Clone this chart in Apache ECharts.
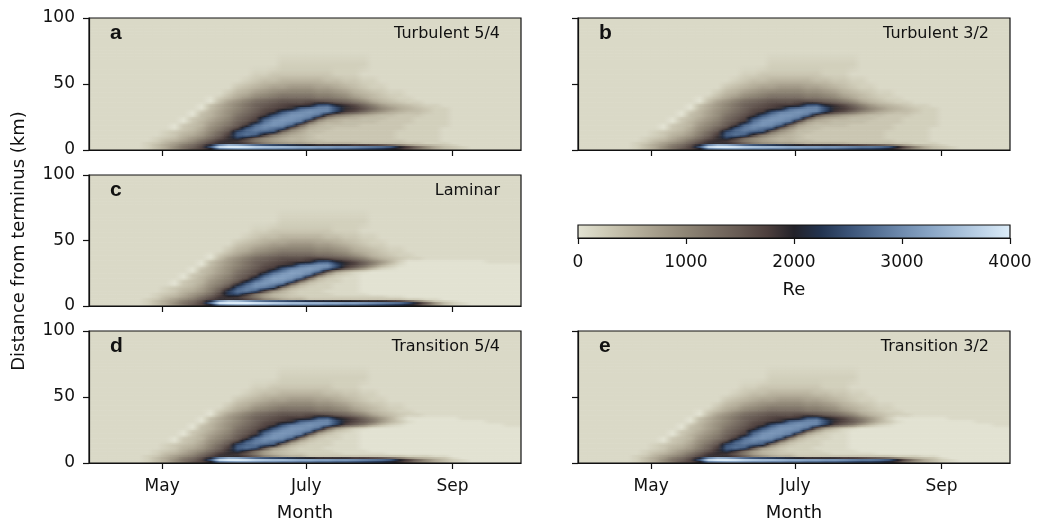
<!DOCTYPE html>
<html><head><meta charset="utf-8">
<script src="https://cdn.jsdelivr.net/npm/echarts@6/dist/echarts.min.js"></script>
<style>html,body{margin:0;padding:0;background:#fff}#c{width:1037px;height:522px}</style>
</head><body><div id="c"></div><script>
// ---------- data ----------
const monthTickDays = [121, 182, 244];
const monthTickLabels = ['May', 'July', 'Sep'];
const dayMin = 90, dayMax = 273;
const colStartDay = 90, colDays = 3.8125;           // 48 columns
const rowEdgesKm = [0,1.5,3,4.5,6,8,10,12.5,15,17.5,20,22.5,25,27.5,30,32.5,35,37.5,40,45,50,55,60,70,80,100];
const panelLetters = ['a','b','c','d','e'];
const panelTitles = ['Turbulent 5/4','Turbulent 3/2','Laminar','Transition 5/4','Transition 3/2'];
// Re / 100, rows listed from top (80-100 km) to bottom (0-1.5 km)
const reTurb54 = [
[1,1,1,1,1,1,1,1, 1,1,1,1,1,1,1,1, 1,1,1,1,1,1,1,1, 1,1,1,1,1,1,1,1, 1,1,1,1,1,1,1,1, 1,1,1,1,1,1,1,1],
[1,1,1,1,1,1,1,1, 1,1,1,1,1,1,1,1, 1,1,1,1,1,1,1,1, 1,1,1,1,1,1,1,1, 1,1,1,1,1,1,1,1, 1,1,1,1,1,1,1,1],
[1,1,1,1,1,1,1,1, 1,1,1,1,1,1,1,1, 1,1,1,1,1,2,2,2, 2,2,2,2,2,2,2,1, 1,1,1,1,1,1,1,1, 1,1,1,1,1,1,1,1],
[1,1,1,1,1,1,1,1, 1,1,1,1,1,1,1,1, 1,1,2,2,3,3,3,3, 3,3,3,2,2,2,1,1, 1,1,1,1,1,1,1,1, 1,1,1,1,1,1,1,1],
[1,1,1,1,1,1,1,1, 1,1,1,1,1,1,1,1, 1,2,3,4,4,5,5,5, 5,5,4,4,3,3,2,2, 1,1,1,1,1,1,1,1, 1,1,1,1,1,1,1,1],
[1,1,1,1,1,1,1,1, 1,1,1,1,1,1,1,1, 3,4,5,6,7,7,8,8, 8,7,7,6,5,4,3,2, 2,1,1,1,1,1,1,1, 1,1,1,1,1,1,1,1],
[1,1,1,1,1,1,1,1, 1,1,1,1,1,1,1,3, 5,6,8,9,10,11,11,11, 11,10,10,9,8,6,5,4, 3,2,2,1,1,1,1,1, 1,1,1,1,1,1,1,1],
[1,1,1,1,1,1,1,1, 1,1,1,1,1,0,3,5, 7,9,11,12,13,14,14,14, 14,13,13,12,11,9,7,5, 4,3,2,2,1,1,1,1, 1,1,1,1,1,1,1,1],
[1,1,1,1,1,1,1,1, 1,1,1,1,1,0,4,7, 9,11,13,14,15,16,16,16, 17,17,16,15,14,12,10,7, 5,4,3,2,2,1,1,1, 1,1,1,1,1,1,1,1],
[1,1,1,1,1,1,1,1, 1,1,1,1,0,4,6,8, 10,12,14,15,16,17,18,18, 19,26,27,21,19,17,14,11, 8,6,5,4,3,2,2,1, 1,1,1,1,1,1,1,1],
[1,1,1,1,1,1,1,1, 1,1,1,1,0,4,6,8, 10,12,14,16,17,18,19,27, 29,30,30,25,19,18,16,13, 10,8,6,5,4,3,2,2, 1,1,1,1,1,1,1,1],
[1,1,1,1,1,1,1,1, 1,1,1,0,3,5,7,9, 11,13,15,17,18,25,29,30, 31,30,29,23,18,16,13,10, 8,6,5,4,4,3,2,2, 1,1,1,1,1,1,1,1],
[1,1,1,1,1,1,1,1, 1,1,1,0,4,5,7,9, 12,14,16,18,25,29,31,31, 30,28,16,11,9,7,6,5, 4,4,3,3,3,2,2,2, 1,1,1,1,1,1,1,1],
[1,1,1,1,1,1,1,1, 1,1,0,3,4,6,8,10, 13,15,17,25,29,31,31,30, 28,14,8,6,5,5,4,4, 4,3,3,3,2,2,2,2, 1,1,1,1,1,1,1,1],
[1,1,1,1,1,1,1,1, 1,1,0,3,5,7,9,11, 14,16,19,28,31,31,30,28, 14,7,5,5,4,4,4,4, 3,3,3,3,2,2,2,2, 1,1,1,1,1,1,1,1],
[1,1,1,1,1,1,1,1, 1,0,3,4,5,8,10,12, 15,18,27,30,31,30,27,14, 7,5,4,4,4,4,3,3, 3,3,3,2,2,2,2,2, 1,1,1,1,1,1,1,1],
[1,1,1,1,1,1,1,1, 1,0,3,4,6,9,11,14, 17,26,29,30,28,26,13,8, 5,4,4,3,3,3,3,3, 3,3,3,2,2,2,2,1, 1,1,1,1,1,1,1,1],
[1,1,1,1,1,1,1,1, 2,3,4,5,7,10,13,16, 25,27,28,26,25,12,8,6, 4,4,3,3,3,3,3,3, 3,3,2,2,2,2,2,1, 1,1,1,1,1,1,1,1],
[1,1,1,1,1,1,1,1, 2,3,5,6,8,11,14,18, 26,28,26,18,11,8,6,5, 4,3,3,3,3,3,3,3, 3,3,2,2,2,2,2,1, 1,1,1,1,1,1,1,1],
[1,1,1,1,1,1,1,2, 3,4,6,8,10,13,16,19, 23,19,14,10,8,6,5,5, 4,3,3,3,3,3,3,3, 3,3,2,2,2,2,2,1, 1,1,1,1,1,1,1,1],
[1,1,1,1,1,1,1,2, 4,5,7,9,12,15,18,19, 18,15,11,9,7,6,5,5, 4,4,3,3,3,3,3,3, 3,3,3,2,2,2,2,1, 1,1,1,1,1,1,1,1],
[1,1,1,1,1,1,2,3, 5,7,9,11,14,17,19,19, 19,17,14,11,9,8,7,7, 6,5,5,5,5,5,4,4, 4,4,4,3,3,2,2,2, 1,1,1,1,1,1,1,1],
[1,1,1,1,1,1,2,4, 6,8,11,13,16,21,30,34, 33,30,27,25,24,23,22,21, 20,19,19,19,19,18,18,17, 16,14,11,8,6,5,4,3, 2,1,1,1,1,1,1,1],
[1,1,1,1,1,1,2,4, 6,9,12,14,17,25,38,40, 40,39,37,36,35,35,34,33, 33,32,32,31,31,30,29,28, 27,25,20,17,13,9,6,4, 3,2,1,1,1,1,1,1],
[1,1,1,1,1,1,2,4, 6,9,12,15,17,20,30,32, 33,33,32,31,31,30,30,29, 29,28,28,27,27,26,25,24, 23,21,19,16,12,9,6,4, 3,2,1,1,1,1,1,1]
];
const reTurb32 = [
[1,1,1,1,1,1,1,1, 1,1,1,1,1,1,1,1, 1,1,1,1,1,1,1,1, 1,1,1,1,1,1,1,1, 1,1,1,1,1,1,1,1, 1,1,1,1,1,1,1,1],
[1,1,1,1,1,1,1,1, 1,1,1,1,1,1,1,1, 1,1,1,1,1,1,1,1, 1,1,1,1,1,1,1,1, 1,1,1,1,1,1,1,1, 1,1,1,1,1,1,1,1],
[1,1,1,1,1,1,1,1, 1,1,1,1,1,1,1,1, 1,1,1,1,1,2,2,2, 2,2,2,2,2,2,2,1, 1,1,1,1,1,1,1,1, 1,1,1,1,1,1,1,1],
[1,1,1,1,1,1,1,1, 1,1,1,1,1,1,1,1, 1,1,2,2,3,3,3,3, 3,3,3,2,2,2,1,1, 1,1,1,1,1,1,1,1, 1,1,1,1,1,1,1,1],
[1,1,1,1,1,1,1,1, 1,1,1,1,1,1,1,1, 1,2,3,4,4,5,5,5, 5,5,4,4,3,3,2,2, 1,1,1,1,1,1,1,1, 1,1,1,1,1,1,1,1],
[1,1,1,1,1,1,1,1, 1,1,1,1,1,1,1,1, 3,4,5,6,7,7,8,8, 8,7,7,6,5,4,3,2, 2,1,1,1,1,1,1,1, 1,1,1,1,1,1,1,1],
[1,1,1,1,1,1,1,1, 1,1,1,1,1,1,1,3, 5,6,8,9,10,11,11,11, 11,10,10,9,8,6,5,4, 3,2,2,1,1,1,1,1, 1,1,1,1,1,1,1,1],
[1,1,1,1,1,1,1,1, 1,1,1,1,1,0,3,5, 7,9,11,12,13,14,14,14, 14,13,13,12,11,9,7,5, 4,3,2,2,1,1,1,1, 1,1,1,1,1,1,1,1],
[1,1,1,1,1,1,1,1, 1,1,1,1,1,0,4,7, 9,11,13,14,15,16,16,16, 17,17,16,15,14,12,10,7, 5,4,3,2,2,1,1,1, 1,1,1,1,1,1,1,1],
[1,1,1,1,1,1,1,1, 1,1,1,1,0,4,6,8, 10,12,14,15,16,17,18,18, 19,26,27,21,19,17,14,11, 8,6,5,4,3,2,2,1, 1,1,1,1,1,1,1,1],
[1,1,1,1,1,1,1,1, 1,1,1,1,0,4,6,8, 10,12,14,16,17,18,19,27, 29,30,30,25,19,18,16,13, 10,8,6,5,4,3,2,2, 1,1,1,1,1,1,1,1],
[1,1,1,1,1,1,1,1, 1,1,1,0,3,5,7,9, 11,13,15,17,18,25,29,30, 31,30,29,23,18,16,13,10, 8,6,5,4,4,3,2,2, 1,1,1,1,1,1,1,1],
[1,1,1,1,1,1,1,1, 1,1,1,0,4,5,7,9, 12,14,16,18,25,29,31,31, 30,28,16,11,9,7,6,5, 4,4,3,3,3,2,2,2, 1,1,1,1,1,1,1,1],
[1,1,1,1,1,1,1,1, 1,1,0,3,4,6,8,10, 13,15,17,25,29,31,31,30, 28,14,8,6,5,5,4,4, 4,3,3,3,2,2,2,2, 1,1,1,1,1,1,1,1],
[1,1,1,1,1,1,1,1, 1,1,0,3,5,7,9,11, 14,16,19,28,31,31,30,28, 14,7,5,5,4,4,4,4, 3,3,3,3,2,2,2,2, 1,1,1,1,1,1,1,1],
[1,1,1,1,1,1,1,1, 1,0,3,4,5,8,10,12, 15,18,27,30,31,30,27,14, 7,5,4,4,4,4,3,3, 3,3,3,2,2,2,2,2, 1,1,1,1,1,1,1,1],
[1,1,1,1,1,1,1,1, 1,0,3,4,6,9,11,14, 17,26,29,30,28,26,13,8, 5,4,4,3,3,3,3,3, 3,3,3,2,2,2,2,1, 1,1,1,1,1,1,1,1],
[1,1,1,1,1,1,1,1, 2,3,4,5,7,10,13,16, 25,27,28,26,25,12,8,6, 4,4,3,3,3,3,3,3, 3,3,2,2,2,2,2,1, 1,1,1,1,1,1,1,1],
[1,1,1,1,1,1,1,1, 2,3,5,6,8,11,14,18, 26,28,26,18,11,8,6,5, 4,3,3,3,3,3,3,3, 3,3,2,2,2,2,2,1, 1,1,1,1,1,1,1,1],
[1,1,1,1,1,1,1,2, 3,4,6,8,10,13,16,19, 23,19,14,10,8,6,5,5, 4,3,3,3,3,3,3,3, 3,3,2,2,2,2,2,1, 1,1,1,1,1,1,1,1],
[1,1,1,1,1,1,1,2, 4,5,7,9,12,15,18,19, 18,15,11,9,7,6,5,5, 4,4,3,3,3,3,3,3, 3,3,3,2,2,2,2,1, 1,1,1,1,1,1,1,1],
[1,1,1,1,1,1,2,3, 5,7,9,11,14,17,19,19, 19,17,14,11,9,8,7,7, 6,5,5,5,5,5,4,4, 4,4,4,3,3,2,2,2, 1,1,1,1,1,1,1,1],
[1,1,1,1,1,1,2,4, 6,8,11,13,16,21,30,34, 33,30,27,25,24,23,22,21, 20,19,19,19,19,18,18,17, 16,15,13,10,7,5,4,3, 2,1,1,1,1,1,1,1],
[1,1,1,1,1,1,2,4, 6,9,12,14,17,25,38,40, 40,39,37,36,35,35,34,33, 33,32,32,31,31,30,29,28, 28,27,25,20,15,10,6,4, 3,2,1,1,1,1,1,1],
[1,1,1,1,1,1,2,4, 6,9,12,15,17,20,30,32, 33,33,32,31,31,30,30,29, 29,28,28,27,27,26,25,24, 24,23,21,18,13,9,6,4, 3,2,1,1,1,1,1,1]
];
const reLaminar = [
[1,1,1,1,1,1,1,1, 1,1,1,1,1,1,1,1, 1,1,1,1,1,1,1,1, 1,1,1,1,1,1,1,1, 1,1,1,1,1,1,1,1, 1,1,1,1,1,1,1,1],
[1,1,1,1,1,1,1,1, 1,1,1,1,1,1,1,1, 1,1,1,1,1,1,1,1, 1,1,1,1,1,1,1,1, 1,1,1,1,1,1,1,1, 1,1,1,1,1,1,1,1],
[1,1,1,1,1,1,1,1, 1,1,1,1,1,1,1,1, 1,1,1,1,1,2,2,2, 2,2,2,2,2,2,2,1, 1,1,1,1,1,1,1,1, 1,1,1,1,1,1,1,1],
[1,1,1,1,1,1,1,1, 1,1,1,1,1,1,1,1, 1,1,2,2,3,3,3,3, 3,3,3,2,2,2,1,1, 1,1,1,1,1,1,1,1, 1,1,1,1,1,1,1,1],
[1,1,1,1,1,1,1,1, 1,1,1,1,1,1,1,1, 1,2,3,4,4,5,5,5, 5,5,4,4,3,3,2,2, 1,1,1,1,1,1,1,1, 1,1,1,1,1,1,1,1],
[1,1,1,1,1,1,1,1, 1,1,1,1,1,1,1,1, 3,4,5,6,7,7,8,8, 8,7,7,6,5,4,3,2, 2,1,1,1,1,1,1,1, 1,1,1,1,1,1,1,1],
[1,1,1,1,1,1,1,1, 1,1,1,1,1,1,1,3, 5,6,8,9,10,11,11,11, 11,10,10,9,8,6,5,4, 3,2,2,1,1,1,1,1, 1,1,1,1,1,1,1,1],
[1,1,1,1,1,1,1,1, 1,1,1,1,1,0,3,5, 7,9,11,12,13,14,14,14, 14,13,13,12,11,9,7,5, 4,3,2,2,1,1,1,1, 1,1,1,1,1,1,1,1],
[1,1,1,1,1,1,1,1, 1,1,1,1,1,0,4,7, 9,11,13,14,15,16,16,16, 17,17,16,15,14,12,10,7, 5,4,3,2,2,1,1,1, 1,1,1,1,1,1,1,1],
[1,1,1,1,1,1,1,1, 1,1,1,1,0,4,6,8, 10,12,14,15,16,17,18,18, 19,25,26,21,19,17,14,11, 8,5,2,0,0,0,0,0, 0,0,0,0,1,1,1,1],
[1,1,1,1,1,1,1,1, 1,1,1,1,0,4,6,8, 10,12,14,16,17,18,19,27, 29,31,31,25,19,17,14,10, 6,3,1,0,0,0,0,0, 0,0,0,0,0,0,0,0],
[1,1,1,1,1,1,1,1, 1,1,1,0,3,5,7,9, 11,13,15,17,18,25,29,31, 32,31,29,23,17,13,9,5, 2,1,0,0,0,0,0,0, 0,0,0,0,0,0,0,0],
[1,1,1,1,1,1,1,1, 1,1,1,0,4,5,7,9, 12,14,16,18,25,29,32,32, 31,28,15,7,4,2,1,0, 0,0,0,0,0,0,0,0, 0,0,0,0,0,0,0,0],
[1,1,1,1,1,1,1,1, 1,1,0,3,4,6,8,10, 13,15,17,25,30,32,32,31, 28,14,6,3,2,1,0,0, 0,0,0,0,0,0,0,0, 0,0,0,0,0,0,0,0],
[1,1,1,1,1,1,1,1, 1,1,0,3,5,7,9,11, 14,16,22,29,32,32,31,28, 14,5,3,2,1,1,0,0, 0,0,0,0,0,0,0,0, 0,0,0,0,0,0,0,0],
[1,1,1,1,1,1,1,1, 1,0,3,4,5,8,10,12, 15,21,28,31,32,31,27,12, 5,3,2,2,1,1,0,0, 0,0,0,0,0,0,0,0, 0,0,0,0,0,0,0,0],
[1,1,1,1,1,1,1,1, 1,0,3,4,6,9,11,14, 20,27,31,31,29,26,11,5, 3,2,2,1,1,1,0,0, 0,0,0,0,0,0,0,0, 0,0,0,0,0,0,0,0],
[1,1,1,1,1,1,1,1, 2,3,4,5,7,10,13,17, 26,29,30,28,25,10,5,3, 2,2,2,1,1,1,0,0, 0,0,0,0,0,0,0,0, 0,0,0,0,0,0,0,0],
[1,1,1,1,1,1,1,1, 2,3,5,6,8,11,15,23, 28,29,26,16,8,5,3,2, 2,2,1,1,1,1,0,0, 0,0,0,0,0,0,0,0, 0,0,0,0,0,0,0,0],
[1,1,1,1,1,1,1,2, 3,4,6,8,10,13,17,23, 25,19,12,8,5,4,3,2, 2,2,2,1,1,1,1,0, 0,0,0,0,0,0,0,0, 0,0,0,0,0,0,0,0],
[1,1,1,1,1,1,1,2, 4,5,7,9,12,15,18,19, 18,15,11,7,5,4,3,3, 2,2,2,2,2,2,2,2, 2,1,1,0,0,0,0,0, 0,0,0,0,0,0,0,0],
[1,1,1,1,1,1,2,3, 5,7,9,11,14,17,19,19, 19,17,14,10,8,6,5,5, 3,3,3,3,3,3,3,3, 3,3,3,2,2,1,1,0, 0,0,0,0,0,0,0,0],
[1,1,1,1,1,1,2,4, 6,8,11,13,16,22,32,36, 35,32,29,27,26,25,24,23, 22,21,21,20,20,20,19,19, 19,18,17,14,10,6,3,2, 1,0,0,0,0,0,0,0],
[1,1,1,1,1,1,2,4, 6,9,12,14,17,27,39,40, 40,40,39,38,37,36,35,35, 34,34,33,33,32,32,31,30, 29,28,27,24,19,14,8,4, 2,1,0,0,0,0,0,0],
[1,1,1,1,1,1,2,4, 6,9,12,15,17,21,31,33, 34,34,33,33,32,32,31,31, 30,30,29,29,28,28,27,26, 25,24,23,21,18,13,8,4, 2,1,0,0,0,0,0,0]
];
const reTrans54 = [
[1,1,1,1,1,1,1,1, 1,1,1,1,1,1,1,1, 1,1,1,1,1,1,1,1, 1,1,1,1,1,1,1,1, 1,1,1,1,1,1,1,1, 1,1,1,1,1,1,1,1],
[1,1,1,1,1,1,1,1, 1,1,1,1,1,1,1,1, 1,1,1,1,1,1,1,1, 1,1,1,1,1,1,1,1, 1,1,1,1,1,1,1,1, 1,1,1,1,1,1,1,1],
[1,1,1,1,1,1,1,1, 1,1,1,1,1,1,1,1, 1,1,1,1,1,2,2,2, 2,2,2,2,2,2,2,1, 1,1,1,1,1,1,1,1, 1,1,1,1,1,1,1,1],
[1,1,1,1,1,1,1,1, 1,1,1,1,1,1,1,1, 1,1,2,2,3,3,3,3, 3,3,3,2,2,2,1,1, 1,1,1,1,1,1,1,1, 1,1,1,1,1,1,1,1],
[1,1,1,1,1,1,1,1, 1,1,1,1,1,1,1,1, 1,2,3,4,4,5,5,5, 5,5,4,4,3,3,2,2, 1,1,1,1,1,1,1,1, 1,1,1,1,1,1,1,1],
[1,1,1,1,1,1,1,1, 1,1,1,1,1,1,1,1, 3,4,5,6,7,7,8,8, 8,7,7,6,5,4,3,2, 2,1,1,1,1,1,1,1, 1,1,1,1,1,1,1,1],
[1,1,1,1,1,1,1,1, 1,1,1,1,1,1,1,3, 5,6,8,9,10,11,11,11, 11,10,10,9,8,6,5,4, 3,2,2,1,1,1,1,1, 1,1,1,1,1,1,1,1],
[1,1,1,1,1,1,1,1, 1,1,1,1,1,0,3,5, 7,9,11,12,13,14,14,14, 14,13,13,12,11,9,7,5, 4,3,2,2,1,1,1,1, 1,1,1,1,1,1,1,1],
[1,1,1,1,1,1,1,1, 1,1,1,1,1,0,4,7, 9,11,13,14,15,16,16,16, 17,17,16,15,14,12,10,7, 5,4,3,2,2,1,1,1, 1,1,1,1,1,1,1,1],
[1,1,1,1,1,1,1,1, 1,1,1,1,0,4,6,8, 10,12,14,15,16,17,18,18, 19,26,27,21,19,17,14,11, 8,5,2,0,0,0,0,0, 0,1,1,1,1,1,1,1],
[1,1,1,1,1,1,1,1, 1,1,1,1,0,4,6,8, 10,12,14,16,17,18,19,27, 29,30,30,25,19,17,15,12, 8,5,3,1,0,0,0,0, 0,0,0,0,1,1,1,1],
[1,1,1,1,1,1,1,1, 1,1,1,0,3,5,7,9, 11,13,15,17,18,25,29,30, 31,30,29,23,17,14,11,7, 4,2,1,0,0,0,0,0, 0,0,0,0,0,0,1,1],
[1,1,1,1,1,1,1,1, 1,1,1,0,4,5,7,9, 12,14,16,18,25,29,31,31, 30,28,14,7,4,2,1,0, 0,0,0,0,0,0,0,0, 0,0,0,0,0,0,0,0],
[1,1,1,1,1,1,1,1, 1,1,0,3,4,6,8,10, 13,15,17,25,29,31,31,30, 28,12,6,3,2,1,0,0, 0,0,0,0,0,0,0,0, 0,0,0,0,0,0,0,0],
[1,1,1,1,1,1,1,1, 1,1,0,3,5,7,9,11, 14,16,19,28,31,31,30,28, 12,5,3,2,1,1,0,0, 0,0,0,0,0,0,0,0, 0,0,0,0,0,0,0,0],
[1,1,1,1,1,1,1,1, 1,0,3,4,5,8,10,12, 15,18,27,30,31,30,27,12, 5,3,2,2,1,1,0,0, 0,0,0,0,0,0,0,0, 0,0,0,0,0,0,0,0],
[1,1,1,1,1,1,1,1, 1,0,3,4,6,9,11,14, 17,26,29,30,28,26,11,5, 3,2,2,1,1,1,0,0, 0,0,0,0,0,0,0,0, 0,0,0,0,0,0,0,0],
[1,1,1,1,1,1,1,1, 2,3,4,5,7,10,13,16, 25,27,28,26,25,10,5,3, 2,2,2,1,1,1,0,0, 0,0,0,0,0,0,0,0, 0,0,0,0,0,0,0,0],
[1,1,1,1,1,1,1,1, 2,3,5,6,8,11,14,18, 26,28,26,16,8,5,3,2, 2,2,1,1,1,1,0,0, 0,0,0,0,0,0,0,0, 0,0,0,0,0,0,0,0],
[1,1,1,1,1,1,1,2, 3,4,6,8,10,13,16,19, 23,19,13,8,5,4,3,2, 2,2,2,1,1,1,1,0, 0,0,0,0,0,0,0,0, 0,0,0,0,0,0,0,0],
[1,1,1,1,1,1,1,2, 4,5,7,9,12,15,18,19, 18,15,11,7,5,4,3,3, 2,2,2,2,1,1,1,1, 1,0,0,0,0,0,0,0, 0,0,0,0,0,0,0,0],
[1,1,1,1,1,1,2,3, 5,7,9,11,14,17,19,19, 19,17,14,10,8,6,5,5, 3,3,3,3,3,3,3,3, 3,3,3,2,2,2,1,1, 0,0,0,0,0,0,0,0],
[1,1,1,1,1,1,2,4, 6,8,11,13,16,21,30,34, 33,30,27,25,24,23,22,21, 20,19,19,19,19,18,18,17, 16,14,11,8,6,5,4,3, 1,0,0,0,0,0,0,0],
[1,1,1,1,1,1,2,4, 6,9,12,14,17,25,38,40, 40,39,37,36,35,35,34,33, 33,32,32,31,31,30,29,28, 27,25,20,17,13,9,6,4, 2,1,0,0,0,0,0,0],
[1,1,1,1,1,1,2,4, 6,9,12,15,17,20,30,32, 33,33,32,31,31,30,30,29, 29,28,28,27,27,26,25,24, 23,21,19,16,12,9,6,4, 2,1,0,0,0,0,0,0]
];
const reTrans32 = [
[1,1,1,1,1,1,1,1, 1,1,1,1,1,1,1,1, 1,1,1,1,1,1,1,1, 1,1,1,1,1,1,1,1, 1,1,1,1,1,1,1,1, 1,1,1,1,1,1,1,1],
[1,1,1,1,1,1,1,1, 1,1,1,1,1,1,1,1, 1,1,1,1,1,1,1,1, 1,1,1,1,1,1,1,1, 1,1,1,1,1,1,1,1, 1,1,1,1,1,1,1,1],
[1,1,1,1,1,1,1,1, 1,1,1,1,1,1,1,1, 1,1,1,1,1,2,2,2, 2,2,2,2,2,2,2,1, 1,1,1,1,1,1,1,1, 1,1,1,1,1,1,1,1],
[1,1,1,1,1,1,1,1, 1,1,1,1,1,1,1,1, 1,1,2,2,3,3,3,3, 3,3,3,2,2,2,1,1, 1,1,1,1,1,1,1,1, 1,1,1,1,1,1,1,1],
[1,1,1,1,1,1,1,1, 1,1,1,1,1,1,1,1, 1,2,3,4,4,5,5,5, 5,5,4,4,3,3,2,2, 1,1,1,1,1,1,1,1, 1,1,1,1,1,1,1,1],
[1,1,1,1,1,1,1,1, 1,1,1,1,1,1,1,1, 3,4,5,6,7,7,8,8, 8,7,7,6,5,4,3,2, 2,1,1,1,1,1,1,1, 1,1,1,1,1,1,1,1],
[1,1,1,1,1,1,1,1, 1,1,1,1,1,1,1,3, 5,6,8,9,10,11,11,11, 11,10,10,9,8,6,5,4, 3,2,2,1,1,1,1,1, 1,1,1,1,1,1,1,1],
[1,1,1,1,1,1,1,1, 1,1,1,1,1,0,3,5, 7,9,11,12,13,14,14,14, 14,13,13,12,11,9,7,5, 4,3,2,2,1,1,1,1, 1,1,1,1,1,1,1,1],
[1,1,1,1,1,1,1,1, 1,1,1,1,1,0,4,7, 9,11,13,14,15,16,16,16, 17,17,16,15,14,12,10,7, 5,4,3,2,2,1,1,1, 1,1,1,1,1,1,1,1],
[1,1,1,1,1,1,1,1, 1,1,1,1,0,4,6,8, 10,12,14,15,16,17,18,18, 19,26,27,21,19,17,14,11, 8,5,2,0,0,0,0,0, 0,1,1,1,1,1,1,1],
[1,1,1,1,1,1,1,1, 1,1,1,1,0,4,6,8, 10,12,14,16,17,18,19,27, 29,30,30,25,19,17,15,12, 8,5,3,1,0,0,0,0, 0,0,0,0,1,1,1,1],
[1,1,1,1,1,1,1,1, 1,1,1,0,3,5,7,9, 11,13,15,17,18,25,29,30, 31,30,29,23,17,14,11,7, 4,2,1,0,0,0,0,0, 0,0,0,0,0,0,1,1],
[1,1,1,1,1,1,1,1, 1,1,1,0,4,5,7,9, 12,14,16,18,25,29,31,31, 30,28,14,7,4,2,1,0, 0,0,0,0,0,0,0,0, 0,0,0,0,0,0,0,0],
[1,1,1,1,1,1,1,1, 1,1,0,3,4,6,8,10, 13,15,17,25,29,31,31,30, 28,12,6,3,2,1,0,0, 0,0,0,0,0,0,0,0, 0,0,0,0,0,0,0,0],
[1,1,1,1,1,1,1,1, 1,1,0,3,5,7,9,11, 14,16,19,28,31,31,30,28, 12,5,3,2,1,1,0,0, 0,0,0,0,0,0,0,0, 0,0,0,0,0,0,0,0],
[1,1,1,1,1,1,1,1, 1,0,3,4,5,8,10,12, 15,18,27,30,31,30,27,12, 5,3,2,2,1,1,0,0, 0,0,0,0,0,0,0,0, 0,0,0,0,0,0,0,0],
[1,1,1,1,1,1,1,1, 1,0,3,4,6,9,11,14, 17,26,29,30,28,26,11,5, 3,2,2,1,1,1,0,0, 0,0,0,0,0,0,0,0, 0,0,0,0,0,0,0,0],
[1,1,1,1,1,1,1,1, 2,3,4,5,7,10,13,16, 25,27,28,26,25,10,5,3, 2,2,2,1,1,1,0,0, 0,0,0,0,0,0,0,0, 0,0,0,0,0,0,0,0],
[1,1,1,1,1,1,1,1, 2,3,5,6,8,11,14,18, 26,28,26,16,8,5,3,2, 2,2,1,1,1,1,0,0, 0,0,0,0,0,0,0,0, 0,0,0,0,0,0,0,0],
[1,1,1,1,1,1,1,2, 3,4,6,8,10,13,16,19, 23,19,13,8,5,4,3,2, 2,2,2,1,1,1,1,0, 0,0,0,0,0,0,0,0, 0,0,0,0,0,0,0,0],
[1,1,1,1,1,1,1,2, 4,5,7,9,12,15,18,19, 18,15,11,7,5,4,3,3, 2,2,2,2,1,1,1,1, 1,0,0,0,0,0,0,0, 0,0,0,0,0,0,0,0],
[1,1,1,1,1,1,2,3, 5,7,9,11,14,17,19,19, 19,17,14,10,8,6,5,5, 3,3,3,3,3,3,3,3, 3,3,3,2,2,2,1,1, 0,0,0,0,0,0,0,0],
[1,1,1,1,1,1,2,4, 6,8,11,13,16,21,30,34, 33,30,27,25,24,23,22,21, 20,19,19,19,19,18,18,17, 16,15,13,10,7,5,4,3, 1,0,0,0,0,0,0,0],
[1,1,1,1,1,1,2,4, 6,9,12,14,17,25,38,40, 40,39,37,36,35,35,34,33, 33,32,32,31,31,30,29,28, 28,27,25,20,15,10,6,4, 2,1,0,0,0,0,0,0],
[1,1,1,1,1,1,2,4, 6,9,12,15,17,20,30,32, 33,33,32,31,31,30,30,29, 29,28,28,27,27,26,25,24, 24,23,21,18,13,9,6,4, 2,1,0,0,0,0,0,0]
];
const panelGrids = [reTurb54, reTurb32, reLaminar, reTrans54, reTrans32];
const reColorbarRange = [0, 4000];
const reScaleMax = 40;   // grid values are Re/100
// colour map (Re 0..4000 in steps of 250)
const reColors = ['#e2e2d2','#cecbb7','#b9b39f','#a39b89','#8e8575','#7a6f64','#665a53','#4d3f3d','#232229',
                  '#233450','#3a5276','#546f93','#6f8bae','#88a4c4','#a3bcd6','#bfd4e8','#dcecf8'];

// ---------- layout ----------
const layout = [
  {left: 89, top: 18, width: 432, height: 132},
  {left: 578, top: 18, width: 432, height: 132},
  {left: 89, top: 175, width: 432, height: 131},
  {left: 89, top: 331, width: 432, height: 132},
  {left: 578, top: 331, width: 432, height: 132}
];
const cbLayout = {left: 578, top: 225, width: 432, height: 13};
const showXLabels = [false, false, false, true, true];
const showYLabels = [true, false, true, true, false];
const INK = '#111';
const FONT = 'DejaVu Sans';

const rgbStops = reColors.map(h => [parseInt(h.slice(1,3),16), parseInt(h.slice(3,5),16), parseInt(h.slice(5,7),16)]);
function colorOf(v) {
  const t = Math.max(0, Math.min(1, v / reScaleMax)) * (rgbStops.length - 1);
  const i = Math.min(rgbStops.length - 2, Math.floor(t)), f = t - i;
  const a = rgbStops[i], b = rgbStops[i + 1];
  return 'rgb(' + [0,1,2].map(k => Math.round(a[k] + (b[k] - a[k]) * f)).join(',') + ')';
}

// each cell: [x0, x1, y0, y1, value, L, R, U, D, UL, UR, DL, DR] (neighbour values shade the cell smoothly)
function cellsOf(grid) {
  const out = [];
  const nRows = rowEdgesKm.length - 1;
  const g = (r, c, fb) => (r >= 0 && r < grid.length && c >= 0 && c < grid[r].length) ? grid[r][c] : fb;
  grid.forEach((row, ri) => {
    const k = nRows - 1 - ri;
    row.forEach((v, c) => {
      out.push([colStartDay + c * colDays, colStartDay + (c + 1) * colDays, rowEdgesKm[k], rowEdgesKm[k + 1], v,
        g(ri, c - 1, v), g(ri, c + 1, v), g(ri - 1, c, v), g(ri + 1, c, v),
        g(ri - 1, c - 1, g(ri - 1, c, g(ri, c - 1, v))), g(ri - 1, c + 1, g(ri - 1, c, g(ri, c + 1, v))),
        g(ri + 1, c - 1, g(ri + 1, c, g(ri, c - 1, v))), g(ri + 1, c + 1, g(ri + 1, c, g(ri, c + 1, v)))]);
    });
  });
  return out;
}

function renderCell(params, api) {
  const p0 = api.coord([api.value(0), api.value(3)]);
  const p1 = api.coord([api.value(1), api.value(2)]);
  const v = api.value(4), L = api.value(5), R = api.value(6), U = api.value(7), D = api.value(8);
  const UL = api.value(9), UR = api.value(10), DL = api.value(11), DR = api.value(12);
  const top = [(v + L + U + UL) / 4, (v + U) / 2, (v + R + U + UR) / 4];
  const mid = [(v + L) / 2, v, (v + R) / 2];
  const bot = [(v + L + D + DL) / 4, (v + D) / 2, (v + R + D + DR) / 4];
  const w = p1[0] - p0[0], h = p1[1] - p0[1];
  const n = Math.max(1, Math.round(h / 1.5));
  const children = [];
  for (let k = 0; k < n; k++) {
    const s = (k + 0.5) / n;
    const vals = s < 0.5 ? [0,1,2].map(j => top[j] + (mid[j] - top[j]) * (s / 0.5))
                         : [0,1,2].map(j => mid[j] + (bot[j] - mid[j]) * ((s - 0.5) / 0.5));
    children.push({type: 'rect', shape: {x: p0[0], y: p0[1] + h * k / n, width: w + 0.5, height: h / n + 0.6},
      style: {fill: new echarts.graphic.LinearGradient(0, 0, 1, 0, [
        {offset: 0, color: colorOf(vals[0])}, {offset: 0.5, color: colorOf(vals[1])}, {offset: 1, color: colorOf(vals[2])}])}});
  }
  return {type: 'group', children: children};
}

const grids = [], xAxes = [], yAxes = [], series = [], graphics = [];
layout.forEach((L, i) => {
  grids.push({left: L.left, top: L.top, width: L.width, height: L.height, show: true, outerBoundsMode: 'none',
    containLabel: false, backgroundColor: 'rgba(0,0,0,0)', borderColor: INK, borderWidth: 1.2, z: 8});
  xAxes.push({gridIndex: i, type: 'value', min: dayMin, max: dayMax, z: 9,
    axisLine: {show: true, onZero: false, lineStyle: {color: INK, width: 1.2}},
    axisTick: {show: true, customValues: monthTickDays, length: 6, lineStyle: {color: INK, width: 1.2}},
    axisLabel: {show: showXLabels[i], customValues: monthTickDays, margin: 15, fontSize: 17, fontFamily: FONT, color: INK,
      formatter: v => monthTickLabels[monthTickDays.indexOf(v)] || ''},
    splitLine: {show: false},
    name: showXLabels[i] ? 'Month' : '', nameLocation: 'middle', nameGap: 41,
    nameTextStyle: {fontSize: 18, fontFamily: FONT, color: INK}});
  yAxes.push({gridIndex: i, type: 'value', min: 0, max: 100, interval: 50, z: 9,
    axisLine: {show: true, onZero: false, lineStyle: {color: INK, width: 1.2}},
    axisTick: {show: true, length: 6, lineStyle: {color: INK, width: 1.2}},
    axisLabel: {show: showYLabels[i], margin: 14, fontSize: 17, fontFamily: FONT, color: INK},
    splitLine: {show: false}});
  series.push({type: 'custom', xAxisIndex: i, yAxisIndex: i, clip: true, progressive: 0, animation: false,
    dimensions: ['x0','x1','y0','y1','re','L','R','U','D','UL','UR','DL','DR'], encode: {x: [0, 1], y: [2, 3]},
    data: cellsOf(panelGrids[i]),
    renderItem: renderCell});
  graphics.push({type: 'text', x: L.left + 21, y: L.top + 15.5, z: 20,
    style: {text: panelLetters[i], font: 'bold 21px "Liberation Sans"', fill: INK, align: 'left', verticalAlign: 'middle'}});
  graphics.push({type: 'text', x: L.left + L.width - 21, y: L.top + 15.5, z: 20,
    style: {text: panelTitles[i], font: '16px "DejaVu Sans"', fill: INK, align: 'right', verticalAlign: 'middle'}});
});
// colorbar
const cbi = layout.length;
grids.push({left: cbLayout.left, top: cbLayout.top, width: cbLayout.width, height: cbLayout.height, show: true, outerBoundsMode: 'none',
  containLabel: false, backgroundColor: 'rgba(0,0,0,0)', borderColor: INK, borderWidth: 1.2, z: 8});
xAxes.push({gridIndex: cbi, type: 'value', min: reColorbarRange[0], max: reColorbarRange[1], interval: 1000, z: 9,
  axisLine: {show: true, onZero: false, lineStyle: {color: INK, width: 1.2}},
  axisTick: {show: true, length: 6, lineStyle: {color: INK, width: 1.2}},
  axisLabel: {show: true, showMinLabel: true, showMaxLabel: true, margin: 16, fontSize: 17, fontFamily: FONT, color: INK,
    formatter: v => String(v)},
  splitLine: {show: false}, name: 'Re', nameLocation: 'middle', nameGap: 43,
  nameTextStyle: {fontSize: 18, fontFamily: FONT, color: INK}});
yAxes.push({gridIndex: cbi, type: 'value', min: 0, max: 1, show: false});
series.push({type: 'custom', xAxisIndex: cbi, yAxisIndex: cbi, animation: false, clip: true,
  data: [[reColorbarRange[0], reColorbarRange[1]]], encode: {x: [0, 1]},
  renderItem: (params, api) => {
    const p0 = api.coord([api.value(0), 1]);
    const p1 = api.coord([api.value(1), 0]);
    const stops = reColors.map((c, k) => ({offset: k / (reColors.length - 1), color: c}));
    return {type: 'rect', shape: {x: p0[0], y: p0[1], width: p1[0] - p0[0], height: p1[1] - p0[1]},
      style: {fill: new echarts.graphic.LinearGradient(0, 0, 1, 0, stops)}};
  }});
graphics.push({type: 'text', x: 19, y: 241, rotation: Math.PI / 2, z: 20,
  style: {text: 'Distance from terminus (km)', font: '18px "DejaVu Sans"', fill: INK, align: 'center', verticalAlign: 'middle'}});

const chart = echarts.init(document.getElementById('c'), null, {renderer: 'canvas'});
chart.setOption({
  animation: false,
  backgroundColor: '#ffffff',
  grid: grids, xAxis: xAxes, yAxis: yAxes, series: series,
  graphic: {elements: graphics}
});
</script></body></html>
